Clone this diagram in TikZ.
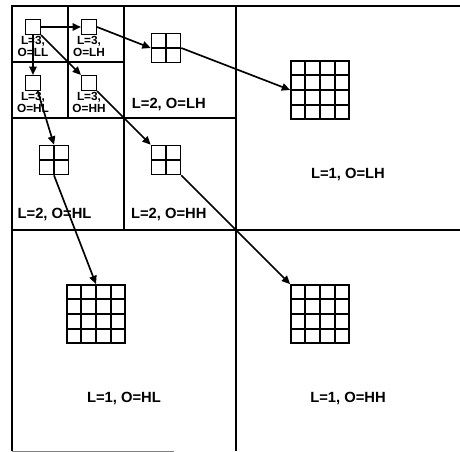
\documentclass[tikz,border=0pt]{standalone}
\usepackage{fontspec}
\setmainfont{Liberation Sans}
\usetikzlibrary{arrows.meta,calc}

% inner lines of a coefficient block
\newcommand{\blocklines}[2]{%
  \foreach \k in {#2} {
    \draw[line width=1.3pt] ($(#1.south west)!\k!(#1.south east)$) -- ($(#1.north west)!\k!(#1.north east)$);
    \draw[line width=1.3pt] ($(#1.south west)!\k!(#1.north west)$) -- ($(#1.south east)!\k!(#1.north east)$);
  }}

\begin{document}
\begin{tikzpicture}[x=2cm,y=2cm,
    part/.style={line width=2pt},
    flow/.style={line width=1.7pt, -{Triangle[length=8.5pt,width=7.5pt]}},
    blk/.style={draw, line width=1.5pt, inner sep=0pt, minimum size=#1},
    bandlabel/.style={font=\fontsize{15}{17}\selectfont\bfseries},
    smalllabel/.style={font=\fontsize{12}{11.5}\selectfont\bfseries, align=center,
                       inner sep=1.5pt, anchor=north}]
  \useasboundingbox (-0.214,0.036) rectangle (8.0,8.107);

  % subband partition
  \draw[part] (0,0.05) -- (0,8) -- (8,8);
  \draw[line width=0.6pt, gray] (0,0.05) -- (2.9,0.05);
  \draw[part] (4,0.05) -- (4,8);
  \draw[part] (0,4) -- (8,4);
  \draw[part] (2,4) -- (2,8);
  \draw[part] (0,6) -- (4,6);
  \draw[part] (1,6) -- (1,8);
  \draw[part] (0,7) -- (2,7);

  % level 3
  \node[blk=0.52cm] (ll3) at (0.375,7.625) {};
  \node[blk=0.52cm] (lh3) at (1.375,7.625) {};
  \node[blk=0.52cm] (hl3) at (0.375,6.625) {};
  \node[blk=0.52cm] (hh3) at (1.375,6.625) {};
  \node[smalllabel] (labll3) at (ll3.south) {L=3,\\O=LL};
  \node[smalllabel] (lablh3) at (lh3.south) {L=3,\\O=LH};
  \node[smalllabel] (labhl3) at (hl3.south) {L=3,\\O=HL};
  \node[smalllabel] (labhh3) at (hh3.south) {L=3,\\O=HH};

  % level 2
  \node[blk=1.04cm] (lh2) at (2.75,7.25) {};
  \node[blk=1.04cm] (hl2) at (0.75,5.25) {};
  \node[blk=1.04cm] (hh2) at (2.75,5.25) {};
  \blocklines{lh2}{0.5}
  \blocklines{hl2}{0.5}
  \blocklines{hh2}{0.5}
  \node[bandlabel] (lablh2) at (2.8,6.25) {L=2, O=LH};
  \node[bandlabel] (labhl2) at (0.76,4.27) {L=2, O=HL};
  \node[bandlabel] (labhh2) at (2.8,4.27) {L=2, O=HH};

  % level 1
  \node[blk=2.08cm] (lh1) at (5.5,6.5) {};
  \node[blk=2.08cm] (hl1) at (1.5,2.5) {};
  \node[blk=2.08cm] (hh1) at (5.5,2.5) {};
  \blocklines{lh1}{0.25,0.5,0.75}
  \blocklines{hl1}{0.25,0.5,0.75}
  \blocklines{hh1}{0.25,0.5,0.75}
  \node[bandlabel] (lablh1) at (6,5) {L=1, O=LH};
  \node[bandlabel] (labhl1) at (2,1) {L=1, O=HL};
  \node[bandlabel] (labhh1) at (6,1) {L=1, O=HH};

  % parent-child links
  \draw[flow] (ll3.east) -- (lh3.west);
  \draw[flow] (ll3.south) -- (hl3.north);
  \draw[flow] (ll3.south east) -- (hh3.north west);
  \draw[flow] (lh3.east) -- (lh2.west);
  \draw[flow] (lh2.east) -- (lh1.west);
  \draw[flow] (hl3.-60) -- (hl2.north);
  \draw[flow] (hl2.south) -- (hl1.north);
  \draw[flow] (hh3.south east) -- (hh2.north west);
  \draw[flow] (hh2.south east) -- (hh1.north west);
\end{tikzpicture}
\end{document}
